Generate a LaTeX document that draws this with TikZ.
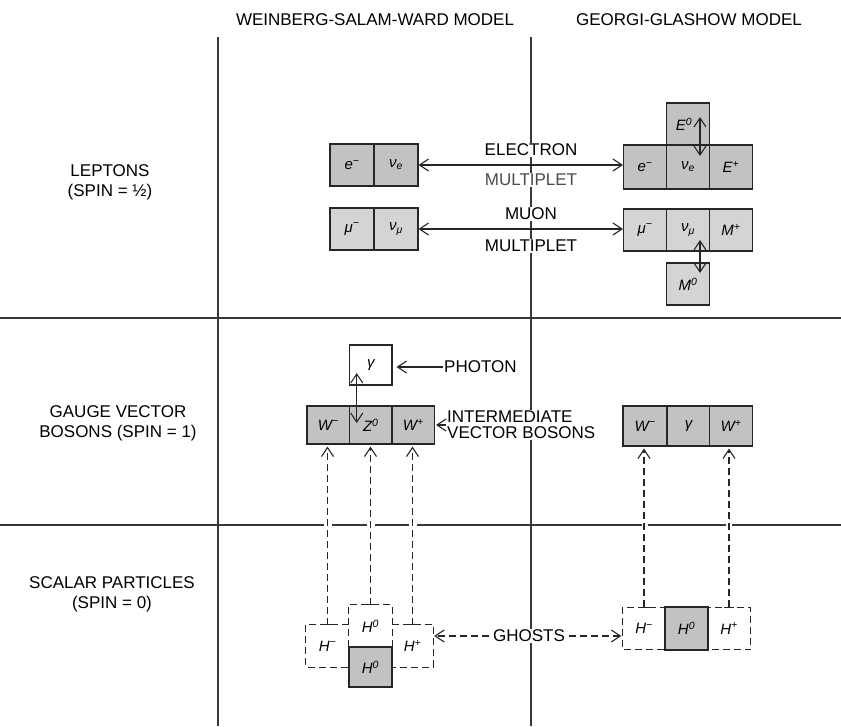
\documentclass[tikz,border=0pt]{standalone}
\usepackage{fontspec}
\setmainfont{Liberation Sans}
\usetikzlibrary{arrows.meta}
\newcommand\labfont{\fontsize{17}{20}\selectfont}
\newcommand\cellfont{\fontsize{15}{18}\selectfont\itshape}
\begin{document}
\begin{tikzpicture}[x=1pt,y=-1pt,
  gridline/.style={line width=1.8pt,draw=black!78},
  cell/.style={draw=black!85,line width=1.1pt,fill=black!24,minimum width=43pt,minimum height=42pt,inner sep=0pt,font=\cellfont},
  lightcell/.style={cell,fill=black!17},
  whitecell/.style={cell,fill=white},
  ghost/.style={minimum width=43pt,minimum height=42pt,inner sep=0pt,font=\cellfont},
  ghostline/.style={line width=1.1pt,draw=black!85,dash pattern=on 7pt off 4pt},
  boxline/.style={line width=1.1pt,draw=black!85},
  dbl/.style={line width=1.1pt,draw=black!85,{Straight Barb[length=9pt,width=12pt]}-{Straight Barb[length=9pt,width=12pt]}},
  single/.style={line width=1.1pt,draw=black!85,-{Straight Barb[length=9pt,width=12pt]}},
  dashsingle/.style={line width=1.1pt,draw=black!85,dash pattern=on 7pt off 4pt,-{Straight Barb[length=9pt,width=12pt]}},
  lab/.style={font=\labfont,align=center,inner sep=1pt},
  wlab/.style={lab,fill=white}
]
\useasboundingbox (0,0) rectangle (841,726);

% grid
\draw[gridline] (0,318) -- (841,318);
\draw[gridline] (0,525) -- (841,525);
\draw[gridline] (218,37) -- (218,726);
\draw[gridline] (531,37) -- (531,726);
\foreach \x in {328.25,370.75,413.25}{\fill[white] (\x-4,521) rectangle (\x+4,529);}
\foreach \x in {645,729}{\fill[white] (\x-3,521) rectangle (\x+3,529);}

% headers
\node[lab] (hws) at (375,20) {WEINBERG-SALAM-WARD MODEL};
\node[lab] (hgg) at (689,20) {GEORGI-GLASHOW MODEL};

% row labels
\node[lab] (rlep) at (110,182) {LEPTONS\\(SPIN = ½)};
\node[lab] (rgauge) at (118,423) {GAUGE VECTOR\\BOSONS (SPIN = 1)};
\node[lab] (rscal) at (112,594) {SCALAR PARTICLES\\(SPIN = 0)};

% leptons, left
\node[cell,minimum width=44pt] (eL) at (352,165) {e\textsuperscript{−}};
\node[cell,minimum width=44pt] (nueL) at (396,165) {ν\textsubscript{e}};
\node[lightcell,minimum width=44pt] (muL) at (352,229) {μ\textsuperscript{−}};
\node[lightcell,minimum width=44pt] (numuL) at (396,229) {ν\textsubscript{μ}};

% leptons, right
\node[cell,minimum height=44pt] (eR) at (645,167) {e\textsuperscript{−}};
\node[cell,minimum height=44pt] (nueR) at (688,167) {ν\textsubscript{e}};
\node[cell,minimum height=44pt] (EpR) at (731,167) {E\textsuperscript{+}};
\node[cell] (E0) at (688,124) {\hspace*{-8pt}E\textsuperscript{0}};
\node[lightcell] (muR) at (645,230) {μ\textsuperscript{−}};
\node[lightcell] (numuR) at (688,230) {ν\textsubscript{μ}};
\node[lightcell] (MpR) at (731,230) {M\textsuperscript{+}};
\node[lightcell] (M0) at (688,284) {M\textsuperscript{0}};

% multiplet labels
\node[wlab] (telec) at (531,150) {ELECTRON};
\node[wlab,text=black!70] (tmult1) at (531,180) {MULTIPLET};
\node[wlab] (tmuon) at (531,214) {MUON};
\node[wlab] (tmult2) at (531,246) {MULTIPLET};

\draw[dbl] (nueL.east) -- (nueL.east -| eR.west);
\draw[dbl] (numuL.east) -- (numuL.east -| muR.west);
\draw[dbl] ([xshift=12pt,yshift=7pt]E0.center) -- ([xshift=12pt,yshift=11pt]nueR.center);
\draw[dbl] ([xshift=12pt,yshift=-10pt]numuR.center) -- ([xshift=12pt,yshift=11pt]M0.center);

% gauge bosons, left
\node[cell,minimum width=42.5pt,minimum height=38pt] (WmL) at (328.25,425) {W\textsuperscript{−}};
\node[cell,minimum width=42.5pt,minimum height=38pt] (Z0) at (370.75,425) {Z\textsuperscript{0}};
\node[cell,minimum width=42.5pt,minimum height=38pt] (WpL) at (413.25,425) {W\textsuperscript{+}};
\node[whitecell,minimum width=42.5pt,minimum height=40pt] (gam) at (370.75,365) {γ};
\draw[dbl] ([xshift=-14pt,yshift=-8pt]gam.center) -- ([xshift=-14pt,yshift=2pt]Z0.center);

\node[lab,anchor=west] (tphoton) at (443,367) {PHOTON};
\draw[single,shorten >=4pt] (tphoton.west) -- (tphoton.west -| gam.east);
\node[wlab,anchor=west,align=left,font=\fontsize{17}{16}\selectfont] (tivb) at (446,425) {INTERMEDIATE\\VECTOR BOSONS};
\draw[single,shorten >=1pt] (tivb.west) -- (tivb.west -| WpL.east);

% gauge bosons, right
\node[cell,minimum height=40pt,minimum width=44pt] (WmR) at (645,426) {W\textsuperscript{−}};
\node[cell,minimum height=40pt] (gamR) at (688.5,426) {γ};
\node[cell,minimum height=40pt] (WpR) at (731,426) {W\textsuperscript{+}};

% scalar particles, left
\node[ghost] (HmL) at (327.5,646) {H\textsuperscript{−}};
\node[ghost] (H0a) at (370.5,626) {H\textsuperscript{0}};
\node[cell,minimum height=40pt] (H0b) at (370.5,667) {H\textsuperscript{0}};
\node[ghost,minimum width=41pt] (HpL) at (412.5,646) {H\textsuperscript{+}};
\draw[ghostline] (HmL.north east) -- (HmL.north west) -- (HmL.south west) -- (HmL.south east);
\draw[ghostline] (HpL.north west) -- (HpL.north east) -- (HpL.south east) -- (HpL.south west);
\draw[ghostline] (H0a.south west) -- (H0a.north west) -- (H0a.north east) -- (H0a.south east);

% scalar particles, right
\node[ghost] (HmR) at (644,628.5) {H\textsuperscript{−}};
\node[ghost] (HpR) at (729,628.5) {H\textsuperscript{+}};
\draw[ghostline] (HmR.north west) rectangle (HpR.south east);
\node[cell,minimum height=43pt] (H0R) at (686.5,628.5) {H\textsuperscript{0}};

% dashed connectors
\foreach \a/\b in {HmL/WmL,H0a/Z0,HpL/WpL,HmR/WmR,HpR/WpR}{
  \draw[dashsingle,shorten >=2pt] (\a.north) -- (\b.south -| \a.north);
  \draw[boxline] ([xshift=-5pt]\a.north) -- ([xshift=5pt]\a.north);
}

\node[wlab] (tghosts) at (529,636) {GHOSTS};
\draw[dashsingle,shorten <=3pt,shorten >=1pt] (tghosts.west) -- (tghosts.west -| HpL.east);
\draw[dashsingle,shorten <=3pt,shorten >=1pt] (tghosts.east) -- (tghosts.east -| HmR.west);
\end{tikzpicture}
\end{document}
